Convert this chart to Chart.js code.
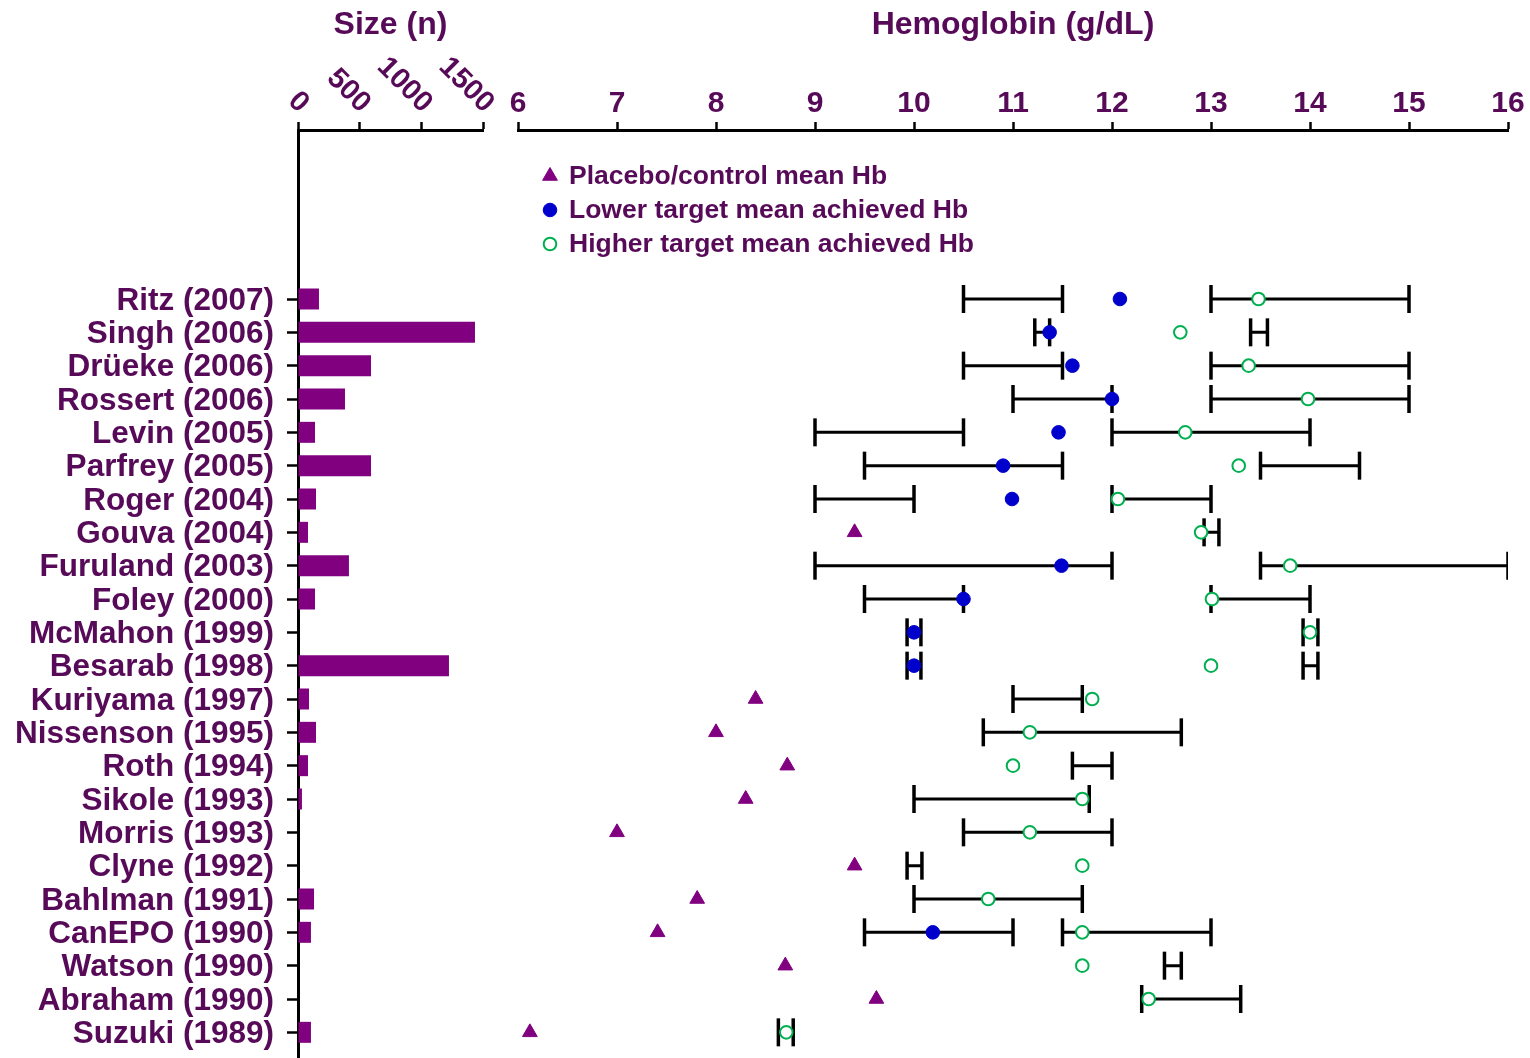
<!DOCTYPE html>
<html>
<head>
<meta charset="utf-8">
<title>Hb targets by trial</title>
<script src="https://cdn.jsdelivr.net/npm/chart.js@4.4.0/dist/chart.umd.min.js"></script>
<style>
  html, body { margin: 0; padding: 0; background: #fff; }
  #wrap { position: relative; width: 1530px; height: 1058px; overflow: hidden; }
  #sizeChart { position: absolute; left: 0; top: 0; }
  #hbChart { position: absolute; left: 500px; top: 0; }
</style>
</head>
<body>
<div id="wrap">
  <canvas id="sizeChart" width="500" height="1058"></canvas>
  <canvas id="hbChart" width="1030" height="1058"></canvas>
</div>
<script>
// one row per trial, top to bottom
const studies = ['Ritz (2007)', 'Singh (2006)', 'Drüeke (2006)', 'Rossert (2006)', 'Levin (2005)',
    'Parfrey (2005)', 'Roger (2004)', 'Gouva (2004)', 'Furuland (2003)', 'Foley (2000)',
    'McMahon (1999)', 'Besarab (1998)', 'Kuriyama (1997)', 'Nissenson (1995)', 'Roth (1994)',
    'Sikole (1993)', 'Morris (1993)', 'Clyne (1992)', 'Bahlman (1991)', 'CanEPO (1990)',
    'Watson (1990)', 'Abraham (1990)', 'Suzuki (1989)'];

const sizeN = [170, 1435, 592, 381, 138, 592, 146, 81, 413, 138,
    null, 1224, 89, 146, 81, 32, null, null, 130, 105,
    null, null, 105];

const placeboHb = [null, null, null, null, null, null, null, 9.4, null, null,
    null, null, 8.4, 8.0, 8.72, 8.3, 7.0, 9.4, 7.81, 7.41,
    8.7, 9.62, 6.12];

const lowerHb = [12.08, 11.37, 11.6, 12.0, 11.46, 10.9, 10.99, null, 11.49, 10.5,
    10.0, 10.0, null, null, null, null, null, null, null, 10.19,
    null, null, null];

const higherHb = [13.48, 12.69, 13.38, 13.98, 12.74, 13.28, 12.06, 12.9, 13.8, 13.01,
    14.0, 13.0, 11.8, 11.17, 11.0, 11.7, 11.17, 11.7, 10.75, 11.7,
    11.7, 12.37, 8.71];

const lowerTargetLo = [10.5, 11.22, 10.5, 11.0, 9.0, 9.5, 9.0, null, 9.0, 9.5,
    9.93, 9.93, null, null, null, null, null, null, null, 9.5,
    null, null, null];
const lowerTargetHi = [11.5, 11.37, 11.5, 12.0, 10.5, 11.5, 10.0, null, 12.0, 10.5,
    10.07, 10.07, null, null, null, null, null, null, null, 11.0,
    null, null, null];

const higherTargetLo = [13.0, 13.4, 13.0, 13.0, 12.0, 13.5, 12.0, 12.93, 13.5, 13.0,
    13.93, 13.93, 11.0, 10.7, 11.6, 10.0, 10.5, 9.93, 10.0, 11.5,
    12.53, 12.3, 8.63];
const higherTargetHi = [15.0, 13.57, 15.0, 15.0, 14.0, 14.5, 13.0, 13.08, 16.0, 14.0,
    14.08, 14.08, 11.7, 12.7, 12.0, 11.77, 12.0, 10.08, 11.7, 13.0,
    12.7, 13.3, 8.78];

const sizeTicks = [0, 500, 1000, 1500];
const hbTicks = [6, 7, 8, 9, 10, 11, 12, 13, 14, 15, 16];

const purple = '#800080';
const textColor = '#570a57';
const fontFamily = "'Liberation Sans', Arial, sans-serif";

Chart.defaults.font.family = fontFamily;
Chart.defaults.font.weight = 'bold';
Chart.defaults.animation = false;

// rows are placed on a linear axis, row 0 at the top
const rowMin = -5.07;
const rowMax = 22.77;

function rowAxis(show) {
    return {
        type: 'linear',
        display: show,
        position: 'left',
        reverse: true,
        min: rowMin,
        max: rowMax,
        offset: false,
        afterBuildTicks: s => { s.ticks = studies.map((_, i) => ({ value: i })); },
        afterFit: s => {
            // fixed label column, and no extra room for half labels at the ends
            if (show) s.width = 298;
            s.paddingTop = 0;
            s.paddingBottom = 0;
        },
        grid: { drawOnChartArea: false, offset: false, tickLength: 11, tickWidth: 2.5, tickColor: '#000' },
        border: { display: true, color: '#000', width: 3 },
        ticks: {
            autoSkip: false,
            padding: 13,
            labelOffset: 2,
            color: textColor,
            font: { size: 31.5, weight: 'bold' },
            callback: v => studies[v] ?? ''
        }
    };
}

function topAxis(title, min, max, tickValues, showLabels) {
    return {
        type: 'linear',
        position: 'top',
        min: min,
        max: max,
        afterBuildTicks: s => { s.ticks = tickValues.map(v => ({ value: v })); },
        afterFit: s => { s.height = 130; },
        grid: { drawOnChartArea: false, tickLength: 8, tickWidth: 2.5, tickColor: '#000' },
        border: { display: true, color: '#000', width: 3 },
        ticks: { display: showLabels, padding: 0, color: textColor, font: { size: 30, weight: 'bold' } },
        title: {
            display: true,
            text: title,
            color: textColor,
            font: { size: 32, weight: 'bold' },
            padding: { top: 6, bottom: 0 }
        }
    };
}

// the size labels lean the other way from what Chart.js does, so draw them here
const slantedSizeLabels = {
    id: 'slantedSizeLabels',
    afterDraw(chart) {
        const { ctx } = chart;
        const sc = chart.scales.x;
        ctx.save();
        ctx.font = 'bold 29px ' + fontFamily;
        ctx.fillStyle = textColor;
        ctx.textAlign = 'right';
        ctx.textBaseline = 'middle';
        sizeTicks.forEach(v => {
            ctx.save();
            ctx.translate(sc.getPixelForValue(v) + 6, sc.bottom - 22);
            ctx.rotate(Math.PI / 4);
            ctx.fillText(String(v), 0, 0);
            ctx.restore();
        });
        ctx.restore();
    }
};

function drawSymbol(ctx, d, x, y) {
    ctx.fillStyle = d.pointBackgroundColor;
    ctx.strokeStyle = d.pointBorderColor;
    ctx.lineWidth = d.pointBorderWidth;
    if (Chart.helpers && Chart.helpers.drawPoint) {
        Chart.helpers.drawPoint(ctx, { pointStyle: d.pointStyle, radius: d.pointRadius, rotation: 0, borderWidth: d.pointBorderWidth }, x, y);
        return;
    }
    ctx.beginPath();
    if (d.pointStyle === 'triangle') {
        const r = d.pointRadius;
        ctx.moveTo(x, y - r);
        ctx.lineTo(x + r * Math.sin(2 * Math.PI / 3), y + r / 2);
        ctx.lineTo(x - r * Math.sin(2 * Math.PI / 3), y + r / 2);
        ctx.closePath();
    } else {
        ctx.arc(x, y, d.pointRadius, 0, 2 * Math.PI);
    }
    ctx.fill();
    ctx.stroke();
}

// legend sits inside the plot, top left
const insideLegend = {
    id: 'insideLegend',
    afterDraw(chart) {
        const { ctx, chartArea } = chart;
        const items = chart.data.datasets.filter(d => d.inLegend);
        ctx.save();
        ctx.font = 'bold 26.5px ' + fontFamily;
        ctx.textAlign = 'left';
        ctx.textBaseline = 'middle';
        items.forEach((d, i) => {
            const x = chartArea.left + 32;
            const y = chartArea.top + 46 + i * 34;
            drawSymbol(ctx, d, x, y);
            ctx.fillStyle = textColor;
            ctx.fillText(d.label, x + 19, y + 1);
        });
        ctx.restore();
    }
};

const toPoints = values => values
    .map((v, i) => ({ x: v, y: i }))
    .filter(p => p.x !== null);

// each range becomes two points, then a gap so the line breaks
function toRanges(lo, hi) {
    const out = [];
    lo.forEach((v, i) => {
        if (v === null) return;
        out.push({ x: v, y: i }, { x: hi[i], y: i }, { x: null, y: null });
    });
    return out;
}

const rangeStyle = {
    type: 'line',
    showLine: true,
    spanGaps: false,
    borderColor: '#000',
    borderWidth: 3,
    pointStyle: 'line',
    pointRotation: 90,
    pointRadius: 14,
    pointBorderColor: '#000',
    pointBorderWidth: 3.5,
    fill: false
};

new Chart(document.getElementById('sizeChart'), {
    type: 'bar',
    data: {
        datasets: [{
            label: 'Size (n)',
            data: sizeN.map((v, i) => ({ x: v, y: i })),
            backgroundColor: purple,
            barPercentage: 0.9,
            categoryPercentage: 0.7
        }]
    },
    options: {
        indexAxis: 'y',
        responsive: false,
        events: [],
        layout: { autoPadding: false, padding: { top: 0, right: 17, bottom: 0, left: 0 } },
        plugins: { legend: { display: false }, tooltip: { enabled: false } },
        scales: {
            x: topAxis('Size (n)', 0, 1500, sizeTicks, false),
            y: rowAxis(true)
        }
    },
    plugins: [slantedSizeLabels]
});

new Chart(document.getElementById('hbChart'), {
    type: 'scatter',
    data: {
        datasets: [
            {
                label: 'Placebo/control mean Hb',
                inLegend: true,
                data: toPoints(placeboHb),
                pointStyle: 'triangle',
                pointRadius: 8.5,
                pointBackgroundColor: purple,
                pointBorderColor: purple,
                pointBorderWidth: 1
            },
            {
                label: 'Lower target mean achieved Hb',
                inLegend: true,
                data: toPoints(lowerHb),
                pointStyle: 'circle',
                pointRadius: 6.8,
                pointBackgroundColor: '#0000cc',
                pointBorderColor: '#0000cc',
                pointBorderWidth: 1
            },
            {
                label: 'Higher target mean achieved Hb',
                inLegend: true,
                data: toPoints(higherHb),
                pointStyle: 'circle',
                pointRadius: 6.3,
                pointBackgroundColor: '#ffffff',
                pointBorderColor: '#00b050',
                pointBorderWidth: 2
            },
            Object.assign({ label: 'Lower target range', data: toRanges(lowerTargetLo, lowerTargetHi) }, rangeStyle),
            Object.assign({ label: 'Higher target range', data: toRanges(higherTargetLo, higherTargetHi) }, rangeStyle)
        ]
    },
    options: {
        responsive: false,
        events: [],
        layout: { autoPadding: false, padding: { top: 0, right: 22, bottom: 0, left: 18 } },
        plugins: { legend: { display: false }, tooltip: { enabled: false } },
        scales: {
            x: topAxis('Hemoglobin (g/dL)', 6, 16, hbTicks, true),
            y: rowAxis(false)
        }
    },
    plugins: [insideLegend]
});
</script>
</body>
</html>
